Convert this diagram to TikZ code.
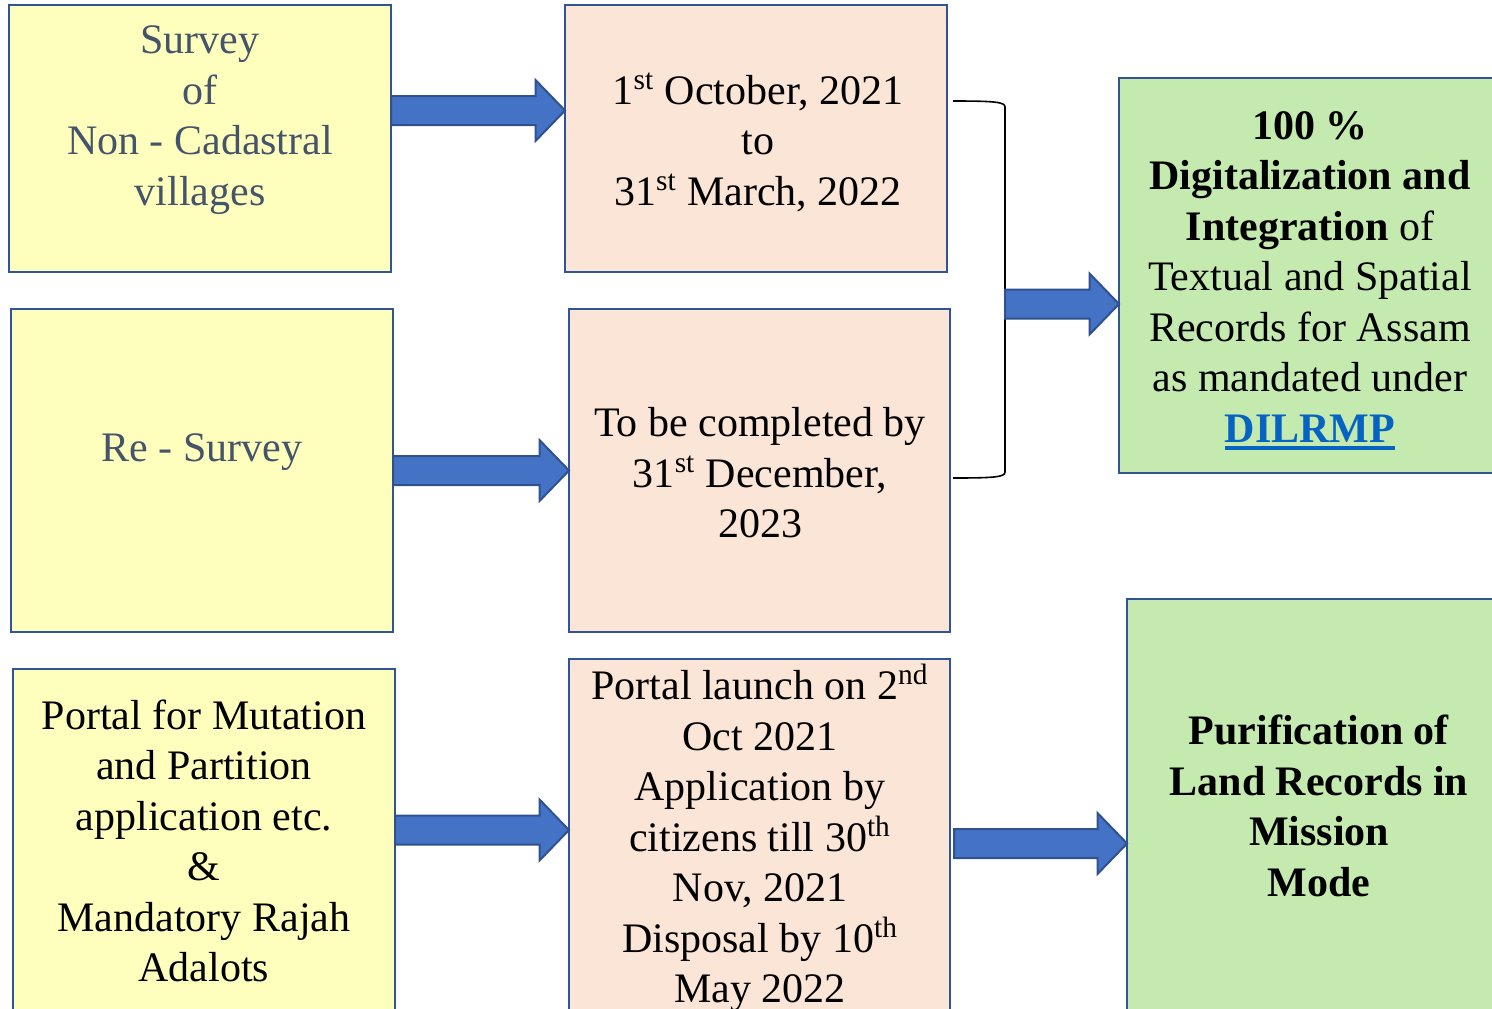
\documentclass[tikz,border=0pt]{standalone}
\usepackage{fontspec}
\setmainfont{Liberation Serif}
\usetikzlibrary{calc}
\definecolor{yel}{HTML}{FFFFBD}
\definecolor{pch}{HTML}{FBE5D6}
\definecolor{grn}{HTML}{C4EAB0}
\definecolor{bdr}{HTML}{2F5597}
\definecolor{arf}{HTML}{4472C4}
\definecolor{ard}{HTML}{2F528F}
\definecolor{slate}{HTML}{44546A}
\definecolor{dil}{HTML}{0563C1}
\newcommand\thickul[1]{\setbox0\hbox{#1}\rlap{\rule[-4pt]{\wd0}{2pt}}\box0}
\newcommand\fatarrow[2]{\draw[fat] let \p1=#1, \p2=#2 in
  (\x1,\y1+7.25pt) -- (\x2-14.75pt,\y1+7.25pt) -- (\x2-14.75pt,\y1+15.25pt) --
  (\x2,\y1) -- (\x2-14.75pt,\y1-15.25pt) -- (\x2-14.75pt,\y1-7.25pt) --
  (\x1,\y1-7.25pt) -- cycle;}
\begin{document}
\begin{tikzpicture}[x=0.5pt,y=-0.5pt,
  box/.style={draw=bdr,line width=1.2pt,inner sep=0pt,outer sep=0pt,anchor=north west},
  txt/.style={align=center,font=\fontsize{21}{25.25}\selectfont,inner sep=0pt},
  fat/.style={fill=arf,draw=ard,line width=1pt,line join=miter}]
\useasboundingbox (0,0) rectangle (1492,1008);
\clip (0,0) rectangle (1492,1008);
% boxes
\node[box,fill=yel,minimum width=191pt,minimum height=133.5pt] (A) at (9,5) {};
\node[box,fill=pch,minimum width=191pt,minimum height=133.5pt] (B) at (565,5) {};
\node[box,fill=yel,minimum width=191pt,minimum height=161.5pt] (C) at (11,309) {};
\node[box,fill=pch,minimum width=190.5pt,minimum height=161.5pt] (D) at (569,309) {};
\node[box,fill=yel,minimum width=191pt,minimum height=180pt] (E) at (13,669) {};
\node[box,fill=pch,minimum width=190.5pt,minimum height=185pt] (F) at (569,659) {};
\node[box,fill=grn,minimum width=195pt,minimum height=197.5pt] (G) at (1119,78) {};
\node[box,fill=grn,minimum width=192pt,minimum height=215pt] (H) at (1127,599) {};
% texts
\node[txt,text=slate] (tA) at (200,120) {Survey\\of\\Non - Cadastral\\villages};
\node[txt] (tB) at (758,142) {1\textsuperscript{st} October, 2021\\to\\31\textsuperscript{st} March, 2022};
\node[txt,text=slate] (tC) at (202,452) {Re - Survey};
\node[txt] (tD) at (760,473) {To be completed by\\31\textsuperscript{st} December,\\2023};
\node[txt] (tE) at (204,841) {Portal for Mutation\\and Partition\\application etc.\\\&\\Mandatory Rajah\\Adalots};
\node[txt] (tF) at (760,838) {Portal launch on 2\textsuperscript{nd}\\Oct 2021\\Application by\\citizens till 30\textsuperscript{th}\\Nov, 2021\\Disposal by 10\textsuperscript{th}\\May 2022};
\node[txt] (tG) at (1310,281) {\textbf{100 \%}\\\textbf{Digitalization and}\\\textbf{Integration} of\\Textual and Spatial\\Records for Assam\\as mandated under\\{\color{dil}\bfseries\thickul{DILRMP}}};
\node[txt] (tH) at (1319,806) {\textbf{Purification of}\\\textbf{Land Records in}\\\textbf{Mission}\\\textbf{Mode}};
% bracket
\draw[black,line width=0.8pt] (953,101) .. controls (995,101) and (1005,102) .. (1005,107)
  -- (1005,472) .. controls (1005,477) and (995,478) .. (953,478);
\coordinate (brk) at (1005,304);
% arrows
\fatarrow{(A.east |- 0,110.5)}{(B.west |- 0,110.5)}
\fatarrow{(C.east |- 0,470.5)}{(D.west |- 0,470.5)}
\fatarrow{(E.east |- 0,830)}{(F.west |- 0,830)}
\fatarrow{(brk)}{(G.west |- brk)}
\fatarrow{($(F.east |- 0,843.5)+(2pt,0)$)}{(H.west |- 0,843.5)}
\end{tikzpicture}
\end{document}
